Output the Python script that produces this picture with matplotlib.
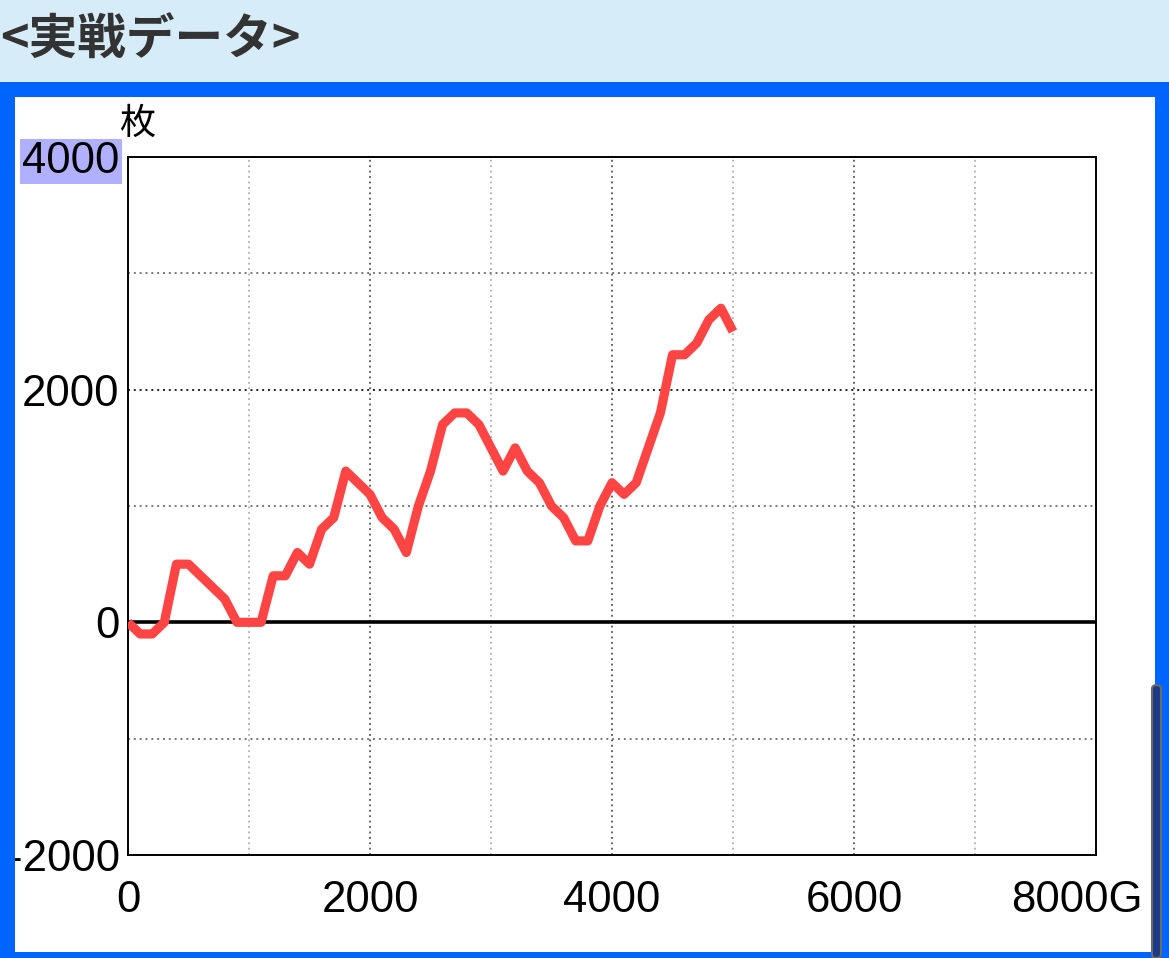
import numpy as np
import matplotlib.pyplot as plt
from matplotlib.patches import Rectangle, FancyBboxPatch
from matplotlib.transforms import ScaledTranslation

# game count (G) and medal difference (枚), every 100 G
games = [0, 100, 200, 300, 400, 500, 600, 700, 800, 900,
         1000, 1100, 1200, 1300, 1400, 1500, 1600, 1700, 1800, 1900,
         2000, 2100, 2200, 2300, 2400, 2500, 2600, 2700, 2800, 2900,
         3000, 3100, 3200, 3300, 3400, 3500, 3600, 3700, 3800, 3900,
         4000, 4100, 4200, 4300, 4400, 4500, 4600, 4700, 4800, 4900, 5000]
medals = [0, -100, -100, 0, 500, 500, 400, 300, 200, 0,
          0, 0, 400, 400, 600, 500, 800, 900, 1300, 1200,
          1100, 900, 800, 600, 1000, 1300, 1700, 1800, 1800, 1700,
          1500, 1300, 1500, 1300, 1200, 1000, 900, 700, 700, 1000,
          1200, 1100, 1200, 1500, 1800, 2300, 2300, 2400, 2600, 2700, 2500]

x_ticks = [0, 2000, 4000, 6000, 8000]
x_labels = ['0', '2000', '4000', '6000', '8000G']
y_ticks = [-2000, 0, 2000, 4000]
y_labels = ['-2000', '0', '2000', '4000']

W, H = 1169, 958
fig = plt.figure(figsize=(W / 100, H / 100), dpi=100)
fig.patch.set_facecolor('white')

def px_rect(x0, y0, x1, y1, color, z=5):
    # rectangle in pixel coords (top-left origin)
    r = Rectangle((x0 / W, 1 - y1 / H), (x1 - x0) / W, (y1 - y0) / H,
                  transform=fig.transFigure, facecolor=color, edgecolor='none', zorder=z)
    fig.patches.append(r)

# header band and blue frame
px_rect(0, 0, W, 82, '#d6ecf9', z=0)
px_rect(0, 82, W, 97, '#0064ff')
px_rect(0, 82, 15, H, '#0064ff')
px_rect(1155, 82, W, H, '#0064ff')
px_rect(0, 952, W, H, '#0064ff')
sb = FancyBboxPatch((1152 / W, 0), 9 / W, (H - 685) / H, boxstyle='round,pad=0,rounding_size=0.004',
                    transform=fig.transFigure, facecolor='#1e3a86', edgecolor='#6a6a6a',
                    linewidth=1.5, zorder=6)
fig.patches.append(sb)

fig.text(0 / W, 1 - 40 / H, '<実戦データ>', fontsize=35, fontweight='bold', color='#333333',
         family=['Noto Sans CJK JP', 'DejaVu Sans'], ha='left', va='center')

ax = fig.add_axes([128 / W, (H - 855) / H, 968 / W, 698 / H])
ax.set_xlim(0, 8000)
ax.set_ylim(-2000, 4000)

# grid lines
for gx in range(1000, 8000, 1000):
    dark = gx % 2000 == 0
    ax.axvline(gx, color='#555555' if dark else '#b0b0b0', lw=1.3, ls=(0, (1, 2)), zorder=1)
for gy in [-1000, 1000, 2000, 3000]:
    dark = gy == 2000
    ax.axhline(gy, color='#222222' if dark else '#777777', lw=1.4, ls=(0, (1, 2)), zorder=1)
ax.axhline(0, color='black', lw=2.6, zorder=2)

ax.plot(games, medals, color='#ff4444', lw=6.6, solid_joinstyle='round',
        solid_capstyle='butt', zorder=3)

for s in ax.spines.values():
    s.set_linewidth(1.4)
    s.set_color('black')

ax.set_xticks(x_ticks)
ax.set_xticklabels(x_labels)
ax.set_yticks(y_ticks)
ax.set_yticklabels(y_labels)
ax.tick_params(axis='both', length=0, labelsize=31.5)
ax.tick_params(axis='x', pad=18)
ax.tick_params(axis='y', pad=6)
for lab in ax.get_xticklabels() + ax.get_yticklabels():
    lab.set_family(['Liberation Sans', 'DejaVu Sans'])

last = ax.get_xticklabels()[-1]
last.set_transform(last.get_transform() + ScaledTranslation(-19 / 100, 0, fig.dpi_scale_trans))

top = ax.get_yticklabels()[-1]
top.set_bbox(dict(facecolor='#b0b0ff', edgecolor='none', pad=1.5))

fig.text(119 / W, 1 - 124 / H, '枚', fontsize=26, color='black',
         family=['Noto Sans CJK JP', 'DejaVu Sans'], ha='left', va='center')

fig.savefig('out.png', dpi=100)
